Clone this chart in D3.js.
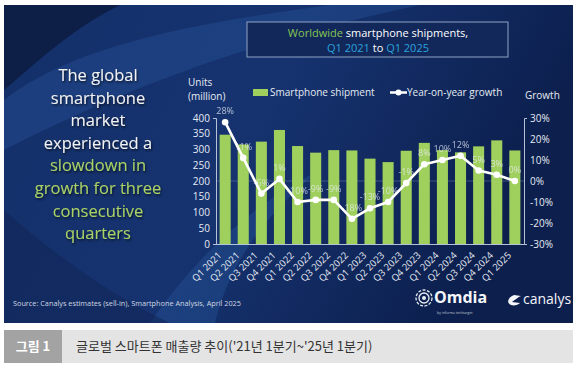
<!DOCTYPE html>
<html><head><meta charset="utf-8">
<script src="https://cdn.jsdelivr.net/npm/d3@7"></script>
<style>body{margin:0;background:#fff}svg{display:block}</style>
</head><body>
<script>
const quarters = ["Q1 2021","Q2 2021","Q3 2021","Q4 2021","Q1 2022","Q2 2022","Q3 2022","Q4 2022","Q1 2023","Q2 2023","Q3 2023","Q4 2023","Q1 2024","Q2 2024","Q3 2024","Q4 2024","Q1 2025"];
const shipments = [347,316,325,362,311,290,298,297,271,260,296,321,298,291,310,329,297];
const growth = [28,11,-6,1,-10,-9,-9,-18,-13,-10,-1,8,10,12,5,3,0];
const growthLabels = ["28%","11%","-6%","1%","-10%","-9%","-9%","-18%","-13%","-10%","-1%","8%","10%","12%","5%","3%","0%"];
const leftTicks = [0,50,100,150,200,250,300,350,400];
const rightTicks = [-30,-20,-10,0,10,20,30];
const sideText = [["The global","w"],["smartphone","w"],["market","w"],["experienced a","w"],["slowdown in","g"],["growth for three","g"],["consecutive","g"],["quarters","g"]];

const W=577,H=368;
const svg=d3.select("body").append("svg").attr("width",W).attr("height",H);
const defs=svg.append("defs");
const bg=defs.append("linearGradient").attr("id","bg").attr("x1","0").attr("y1","0").attr("x2","1").attr("y2","0.3");
bg.append("stop").attr("offset","0").attr("stop-color","#14306a");
bg.append("stop").attr("offset","0.5").attr("stop-color","#163370");
bg.append("stop").attr("offset","1").attr("stop-color","#0c1f4d");
const sh=defs.append("filter").attr("id","sh").attr("x","-10%").attr("y","-10%").attr("width","120%").attr("height","130%");
sh.append("feDropShadow").attr("dx",1).attr("dy",1.5).attr("stdDeviation",1).attr("flood-color","#000").attr("flood-opacity",0.7);
const clip=defs.append("clipPath").attr("id","pc");
clip.append("rect").attr("x",4).attr("y",5).attr("width",569).attr("height",318);

// panel
svg.append("rect").attr("x",4).attr("y",5).attr("width",569).attr("height",318).attr("fill","url(#bg)");
const sw=svg.append("g").attr("clip-path","url(#pc)");
sw.append("path").attr("d","M4,5 L120,5 C70,30 40,60 4,90 Z").attr("fill","#0b1a3e").attr("opacity",0.8);
sw.append("path").attr("d","M4,100 C80,40 220,20 330,5 L420,5 C300,30 160,70 4,150 Z").attr("fill","#2a5aa0").attr("opacity",0.35);
sw.append("path").attr("d","M150,323 C200,250 260,200 320,170 C270,210 230,260 215,323 Z").attr("fill","#2e64a8").attr("opacity",0.3);
sw.append("path").attr("d","M4,210 C60,260 120,300 170,323 L4,323 Z").attr("fill","#0f2452").attr("opacity",0.5);

// title box
svg.append("rect").attr("x",247).attr("y",22).attr("width",261).attr("height",35).attr("fill","#12285a").attr("stroke","#8ea4c4").attr("stroke-width",1);
const t1=svg.append("text").attr("x",378).attr("y",37).attr("text-anchor","middle").attr("font-family","Open Sans, sans-serif").attr("font-size",11);
t1.append("tspan").attr("fill","#86c555").text("Worldwide");
t1.append("tspan").attr("fill","#ffffff").text(" smartphone shipments,");
const t2=svg.append("text").attr("x",378).attr("y",52).attr("text-anchor","middle").attr("font-family","Open Sans, sans-serif").attr("font-size",11);
t2.append("tspan").attr("fill","#2ba3dc").text("Q1 2021");
t2.append("tspan").attr("fill","#ffffff").text(" to ");
t2.append("tspan").attr("fill","#2ba3dc").text("Q1 2025");

// side text
const st=svg.append("g").attr("filter","url(#sh)");
st.selectAll("text").data(sideText).join("text")
  .attr("x",98).attr("y",(d,i)=>81+i*22.6).attr("text-anchor","middle")
  .attr("font-family","Open Sans, sans-serif").attr("font-size",16.5)
  .attr("fill",d=>d[1]==="w"?"#f2f2f2":"#a9d166").text(d=>d[0]);

// scales
const x=d3.scaleBand().domain(quarters).range([216,524]).paddingInner(0.39).paddingOuter(0.2);
const yL=d3.scaleLinear().domain([0,400]).range([244,118]);
const yR=d3.scaleLinear().domain([-30,30]).range([244,118]);

// zero gridline
svg.append("line").attr("x1",216).attr("x2",524).attr("y1",yR(0)).attr("y2",yR(0)).attr("stroke","#6f85aa").attr("stroke-width",0.8).attr("opacity",0.6);

// bars
svg.append("g").selectAll("rect").data(shipments).join("rect")
  .attr("x",(d,i)=>x(quarters[i])).attr("width",x.bandwidth())
  .attr("y",d=>yL(d)).attr("height",d=>yL(0)-yL(d)).attr("fill","#9fcf5c");

// axes
const axStyle=g=>{g.selectAll("path").attr("stroke","#c9d3e3").attr("stroke-width",0.9);
  g.selectAll("text").attr("fill","#e6ebf3").attr("font-family","Open Sans, sans-serif").attr("font-size",10);};
svg.append("g").attr("transform","translate(216,0)")
  .call(d3.axisLeft(yL).tickValues(leftTicks).tickSizeInner(0).tickSizeOuter(3).tickPadding(6))
  .call(axStyle);
svg.append("g").attr("transform","translate(524,0)")
  .call(d3.axisRight(yR).tickValues(rightTicks).tickSizeInner(0).tickSizeOuter(3).tickPadding(6).tickFormat(d=>d+"%"))
  .call(axStyle);
const xa=svg.append("g").attr("transform","translate(0,244)")
  .call(d3.axisBottom(x).tickSize(0).tickSizeOuter(0).tickPadding(0));
xa.select("path").attr("stroke","#c9d3e3").attr("stroke-width",0.9);
xa.selectAll("text").attr("fill","#e6ebf3").attr("font-family","Open Sans, sans-serif").attr("font-size",9.5)
  .attr("text-anchor","end").attr("dy",0).attr("y",0)
  .attr("transform","translate(-3,12) rotate(-45)");

// line
const cx=(d,i)=>x(quarters[i])+x.bandwidth()/2;
svg.append("path").datum(growth).attr("fill","none").attr("stroke","#ffffff").attr("stroke-width",2.6)
  .attr("stroke-linejoin","round")
  .attr("d",d3.line().x(cx).y(d=>yR(d)));
svg.append("g").selectAll("circle").data(growth).join("circle")
  .attr("cx",cx).attr("cy",d=>yR(d)).attr("r",3.3).attr("fill","#ffffff");
svg.append("g").selectAll("text").data(growthLabels).join("text")
  .attr("x",(d,i)=>cx(growth[i],i)).attr("y",(d,i)=>yR(growth[i])-8)
  .attr("text-anchor","middle").attr("font-family","Open Sans, sans-serif").attr("font-size",9)
  .attr("fill","#e8edf5").attr("opacity",0.75).text(d=>d);

// axis titles
const lab=(tx,xx,yy,anchor)=>svg.append("text").attr("x",xx).attr("y",yy).attr("text-anchor",anchor||"start")
  .attr("font-family","Open Sans, sans-serif").attr("font-size",10).attr("fill","#e6ebf3").text(tx);
lab("Units",188,86);
lab("(million)",188,100);
lab("Growth",525,99);

// legend
svg.append("rect").attr("x",253).attr("y",89).attr("width",15).attr("height",7).attr("fill","#9fcf5c");
lab("Smartphone shipment",270,96);
svg.append("line").attr("x1",390).attr("x2",407).attr("y1",92.5).attr("y2",92.5).attr("stroke","#fff").attr("stroke-width",2.5);
svg.append("circle").attr("cx",398.5).attr("cy",92.5).attr("r",3).attr("fill","#fff");
lab("Year-on-year growth",407,96);

// source
svg.append("text").attr("x",13).attr("y",306).attr("font-family","Open Sans, sans-serif").attr("font-size",7.3)
  .attr("fill","#d0d7e3").text("Source: Canalys estimates (sell-in), Smartphone Analysis, April 2025");

// logos
const lg=svg.append("g");
lg.append("circle").attr("cx",424).attr("cy",298).attr("r",8).attr("fill","none").attr("stroke","#e8ecf2").attr("stroke-width",1.3).attr("stroke-dasharray","3 1.5");
lg.append("circle").attr("cx",424).attr("cy",298).attr("r",5).attr("fill","none").attr("stroke","#e8ecf2").attr("stroke-width",1.3);
lg.append("circle").attr("cx",424).attr("cy",298).attr("r",2).attr("fill","#e8ecf2");
lg.append("text").attr("x",434).attr("y",303).attr("font-family","Open Sans, sans-serif").attr("font-weight",700).attr("font-size",16).attr("fill","#f4f6fa").text("Omdia");
lg.append("text").attr("x",437).attr("y",314).attr("font-family","Open Sans, sans-serif").attr("font-size",3.5).attr("fill","#c0c8d6").text("by informa techtarget");
lg.append("path").attr("d","M514,295 C508,297 506,303 511,305 C514,306 518,305 520,303 L512,302 C515,300 518,297 521,296 Z").attr("fill","#f4f6fa");
lg.append("text").attr("x",523).attr("y",304).attr("font-family","Open Sans, sans-serif").attr("font-size",14).attr("fill","#f4f6fa").text("canalys");

// caption bar
svg.append("rect").attr("x",4).attr("y",330).attr("width",569).attr("height",33).attr("fill","#e4e4e4");
svg.append("rect").attr("x",4).attr("y",330).attr("width",58).attr("height",33).attr("fill","#a3a3a3");
svg.append("text").attr("x",33).attr("y",351).attr("text-anchor","middle").attr("font-family","Noto Sans CJK KR, sans-serif").attr("font-size",13).attr("font-weight",700).attr("fill","#fff").text("그림 1");
svg.append("text").attr("x",76).attr("y",351).attr("font-family","Noto Sans CJK KR, sans-serif").attr("font-size",13).attr("fill","#333").text("글로벌 스마트폰 매출량 추이('21년 1분기~'25년 1분기)");
</script>
</body></html>
